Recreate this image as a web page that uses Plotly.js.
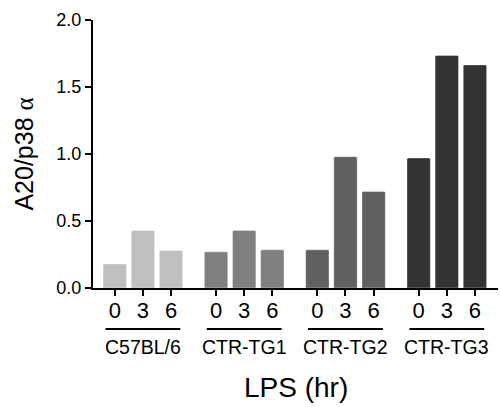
<!DOCTYPE html>
<html><head><meta charset="utf-8">
<script src="https://cdn.plot.ly/plotly-3.0.1.min.js"></script>
<style>html,body{margin:0;padding:0;background:#fff}#chart{width:500px;height:407px}</style>
</head><body><div id="chart"></div>
<script>
const groups = ["C57BL/6", "CTR-TG1", "CTR-TG2", "CTR-TG3"];
const times = ["0", "3", "6"];
const c57 = [0.18, 0.43, 0.28];
const tg1 = [0.27, 0.43, 0.285];
const tg2 = [0.285, 0.98, 0.72];
const tg3 = [0.97, 1.735, 1.665];
const colors = ["#c0c0c0", "#808080", "#606060", "#333333"];

const series = [c57, tg1, tg2, tg3];
const groupStep = 3.6;
const traces = [];
const tickvals = [], ticktext = [];
const shapes = [], annotations = [];
series.forEach((vals, g) => {
  const xs = times.map((t, i) => g * groupStep + i);
  xs.forEach((x, i) => { tickvals.push(x); ticktext.push(times[i]); });
  traces.push({
    type: "bar", x: xs, y: vals, width: 0.83,
    marker: {color: colors[g], line: {color: "rgba(255,255,255,0.35)", width: 1}, cornerradius: 2},
    hoverinfo: "skip"
  });
  const c = g * groupStep + 1;
  shapes.push({type: "line", xref: "x", yref: "paper", x0: c - 1.33, x1: c + 1.33, y0: -0.153, y1: -0.153,
    line: {color: "#000", width: 2}});
  annotations.push({xref: "x", yref: "paper", x: c, y: -0.222, text: groups[g], showarrow: false,
    font: {size: 19.5, color: "#000"}, xanchor: "center", yanchor: "middle"});
});
annotations.push({xref: "paper", yref: "paper", x: 0.5, y: -0.373, text: "LPS (hr)", showarrow: false,
  font: {size: 28, color: "#000"}, xanchor: "center", yanchor: "middle"});

const layout = {
  width: 500, height: 407,
  margin: {l: 93, r: 2, t: 20, b: 119},
  paper_bgcolor: "#fff", plot_bgcolor: "#fff",
  font: {family: "Liberation Sans, Arial, sans-serif", color: "#000"},
  showlegend: false,
  bargap: 0,
  xaxis: {
    range: [-0.773, 13.62], tickmode: "array", tickvals: tickvals, ticktext: ticktext,
    showgrid: false, zeroline: false, showline: true, linecolor: "#000", linewidth: 2,
    ticks: "outside", ticklen: 6, tickwidth: 2, tickcolor: "#000",
    tickfont: {size: 22}, ticklabelstandoff: -4
  },
  yaxis: {
    range: [0, 2], tickvals: [0, 0.5, 1, 1.5, 2], ticktext: ["0.0", "0.5", "1.0", "1.5", "2.0"],
    showgrid: false, zeroline: false, showline: true, linecolor: "#000", linewidth: 2,
    ticks: "outside", ticklen: 6, tickwidth: 2, tickcolor: "#000",
    tickfont: {size: 18},
    title: {text: "A20/p38 <span style=\"font-family:'Liberation Serif'\">α</span>", font: {size: 25}, standoff: 16}
  },
  shapes: shapes, annotations: annotations
};
Plotly.newPlot("chart", traces, layout, {staticPlot: true, displayModeBar: false});
</script></body></html>
